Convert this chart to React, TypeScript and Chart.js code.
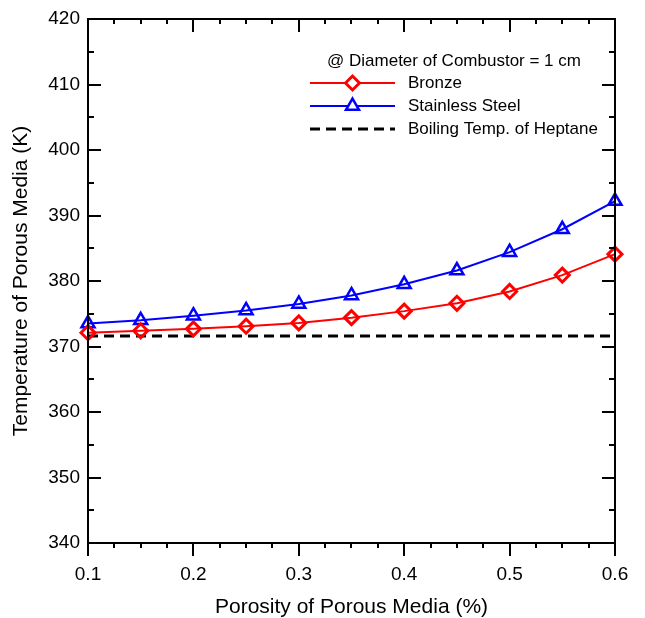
import React, { useEffect, useRef } from "react";
import { Chart, registerables } from "chart.js";
import { drawPoint } from "chart.js/helpers";

Chart.register(...registerables);

// Porosity of the porous medium (x) and the resulting medium temperature (K)
const porosity = [0.1, 0.15, 0.2, 0.25, 0.3, 0.35, 0.4, 0.45, 0.5, 0.55, 0.6];
const bronzeTemp = [372.1, 372.4, 372.7, 373.1, 373.6, 374.4, 375.4, 376.6, 378.4, 380.9, 384.1];
const stainlessTemp = [373.5, 374.0, 374.7, 375.5, 376.5, 377.8, 379.5, 381.6, 384.4, 387.9, 392.2];
const boilingTempHeptane = 371.6;

const xTickValues = [0.1, 0.2, 0.3, 0.4, 0.5, 0.6];
const yTickValues = [340, 350, 360, 370, 380, 390, 400, 410, 420];
const xMinorStep = 0.025;
const yMinorStep = 5;

const legendHeader = "@ Diameter of Combustor = 1 cm";
const xTitle = "Porosity of Porous Media (%)";
const yTitle = "Temperature of Porous Media (K)";

const FONT_FAMILY = '"Liberation Sans", Arial, Helvetica, sans-serif';
const TICK_SIZE = 19;
const TITLE_SIZE = 21;
const LEGEND_SIZE = 17;

// Box around the plot with inward ticks (outward on the bottom axis)
const framePlugin = {
  id: "frameTicks",
  afterDatasetsDraw(chart: any) {
    const { ctx, chartArea: a, scales } = chart;
    const xs = scales.x;
    const ys = scales.y;
    const major = 13;
    const minor = 6;
    ctx.save();
    ctx.strokeStyle = "#000";
    ctx.lineWidth = 2;
    ctx.lineCap = "butt";
    ctx.strokeRect(a.left, a.top, a.right - a.left, a.bottom - a.top);
    ctx.beginPath();
    for (let v = ys.min; v <= ys.max + 1e-9; v += yMinorStep) {
      const isMajor = yTickValues.some((t) => Math.abs(t - v) < 1e-6);
      const len = isMajor ? major : minor;
      const py = Math.round(ys.getPixelForValue(v));
      ctx.moveTo(a.left, py);
      ctx.lineTo(a.left + len, py);
      ctx.moveTo(a.right, py);
      ctx.lineTo(a.right - len, py);
    }
    const n = Math.round((xs.max - xs.min) / xMinorStep);
    for (let i = 0; i <= n; i++) {
      const v = xs.min + i * xMinorStep;
      const isMajor = xTickValues.some((t) => Math.abs(t - v) < 1e-6);
      const px = Math.round(xs.getPixelForValue(v));
      ctx.moveTo(px, a.bottom);
      ctx.lineTo(px, a.bottom + (isMajor ? major : 5));
      ctx.moveTo(px, a.top);
      ctx.lineTo(px, a.top + (isMajor ? major : 5));
    }
    ctx.stroke();
    ctx.restore();
  },
};

// Legend drawn inside the plot, upper right
const legendPlugin = {
  id: "insideLegend",
  afterDraw(chart: any) {
    const { ctx, chartArea: a } = chart;
    ctx.save();
    ctx.font = `${LEGEND_SIZE}px ${FONT_FAMILY}`;
    ctx.fillStyle = "#000";
    ctx.textBaseline = "middle";
    ctx.textAlign = "center";
    ctx.fillText(legendHeader, a.right - 161, a.top + 42);
    const lineX0 = a.right - 305;
    const lineX1 = a.right - 220;
    const textX = a.right - 207;
    chart.data.datasets.forEach((ds: any, i: number) => {
      const y = a.top + 64 + i * 23;
      ctx.save();
      ctx.strokeStyle = ds.borderColor;
      ctx.lineWidth = ds.borderWidth;
      ctx.setLineDash(ds.borderDash || []);
      ctx.beginPath();
      ctx.moveTo(lineX0, y);
      ctx.lineTo(lineX1, y);
      ctx.stroke();
      ctx.restore();
      if (ds.pointRadius > 0) {
        ctx.save();
        ctx.strokeStyle = ds.pointBorderColor;
        ctx.fillStyle = "#ffffff";
        ctx.lineWidth = ds.pointBorderWidth;
        drawPoint(
          ctx,
          { pointStyle: ds.pointStyle, radius: ds.pointRadius, borderWidth: ds.pointBorderWidth, rotation: 0 } as any,
          (lineX0 + lineX1) / 2,
          y
        );
        ctx.restore();
      }
      ctx.fillStyle = "#000";
      ctx.textAlign = "left";
      ctx.fillText(ds.label, textX, y);
    });
    ctx.restore();
  },
};

// Axis titles
const titlesPlugin = {
  id: "axisTitles",
  afterDraw(chart: any) {
    const { ctx, chartArea: a } = chart;
    ctx.save();
    ctx.font = `${TITLE_SIZE}px ${FONT_FAMILY}`;
    ctx.fillStyle = "#000";
    ctx.textAlign = "center";
    ctx.textBaseline = "alphabetic";
    ctx.fillText(xTitle, (a.left + a.right) / 2, chart.height - 5);
    ctx.translate(27, (a.top + a.bottom) / 2);
    ctx.rotate(-Math.PI / 2);
    ctx.fillText(yTitle, 0, 0);
    ctx.restore();
  },
};

export default function App() {
  const canvasRef = useRef<HTMLCanvasElement | null>(null);

  useEffect(() => {
    document.body.style.margin = "0";
    const canvas = canvasRef.current;
    if (!canvas) return;
    const font = { family: FONT_FAMILY, size: TICK_SIZE };
    const chart = new Chart(canvas, {
      type: "line",
      data: {
        datasets: [
          {
            label: "Bronze",
            data: porosity.map((x, i) => ({ x, y: bronzeTemp[i] })),
            borderColor: "#ff0000",
            backgroundColor: "rgba(0,0,0,0)",
            borderWidth: 2,
            pointStyle: "rectRot",
            pointRadius: 7,
            pointBorderWidth: 3,
            pointBorderColor: "#ff0000",
            pointBackgroundColor: "rgba(0,0,0,0)",
            tension: 0,
            clip: false,
          },
          {
            label: "Stainless Steel",
            data: porosity.map((x, i) => ({ x, y: stainlessTemp[i] })),
            borderColor: "#0000ff",
            backgroundColor: "rgba(0,0,0,0)",
            borderWidth: 2,
            pointStyle: "triangle",
            pointRadius: 7.5,
            pointBorderWidth: 2.5,
            pointBorderColor: "#0000ff",
            pointBackgroundColor: "rgba(0,0,0,0)",
            tension: 0,
            clip: false,
          },
          {
            label: "Boiling Temp. of Heptane",
            data: [
              { x: porosity[0], y: boilingTempHeptane },
              { x: porosity[porosity.length - 1], y: boilingTempHeptane },
            ],
            borderColor: "#000000",
            backgroundColor: "rgba(0,0,0,0)",
            borderWidth: 3,
            borderDash: [10, 6],
            pointRadius: 0,
            tension: 0,
            clip: false,
          },
        ] as any,
      },
      options: {
        animation: false,
        responsive: false,
        layout: { padding: { top: 19, right: 30, left: 0, bottom: 0 } },
        plugins: { legend: { display: false }, tooltip: { enabled: false } },
        scales: {
          x: {
            type: "linear",
            min: 0.1,
            max: 0.6,
            afterFit: (s: any) => {
              s.height = 75;
              s.paddingLeft = 0;
              s.paddingRight = 0;
            },
            afterBuildTicks: (s: any) => {
              s.ticks = xTickValues.map((v) => ({ value: v }));
            },
            ticks: {
              padding: 20,
              font,
              color: "#000",
              maxRotation: 0,
              autoSkip: false,
              callback: (v: any) => Number(v).toFixed(1),
            },
            grid: { display: false, drawTicks: false },
            border: { display: false },
          },
          y: {
            min: 340,
            max: 420,
            afterFit: (s: any) => {
              s.width = 88;
              s.paddingTop = 0;
              s.paddingBottom = 0;
            },
            afterBuildTicks: (s: any) => {
              s.ticks = yTickValues.map((v) => ({ value: v }));
            },
            ticks: {
              padding: 8,
              font,
              color: "#000",
              autoSkip: false,
              callback: (v: any) => String(v),
            },
            grid: { display: false, drawTicks: false },
            border: { display: false },
          },
        },
      } as any,
      plugins: [framePlugin, legendPlugin, titlesPlugin],
    });
    return () => chart.destroy();
  }, []);

  return (
    <div style={{ width: 645, height: 618, background: "#fff" }}>
      <canvas ref={canvasRef} width={645} height={618} style={{ display: "block" }} />
    </div>
  );
}
